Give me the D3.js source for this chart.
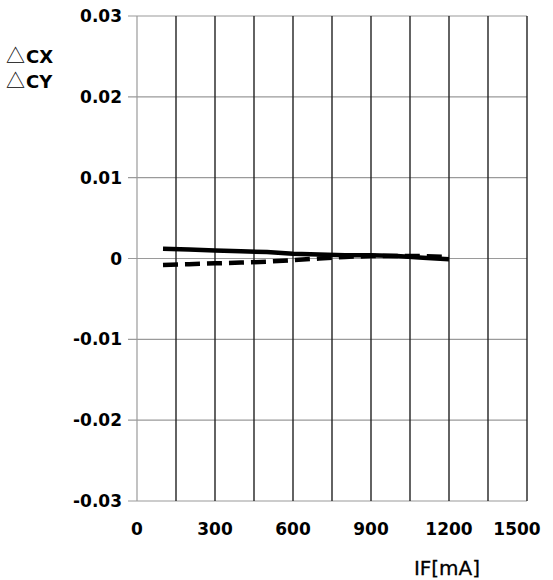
<!DOCTYPE html>
<html>
<head>
<meta charset="utf-8">
<script src="https://cdn.jsdelivr.net/npm/d3@7"></script>
<style>
  body { margin: 0; background: #fff; }
  svg text { font-family: "DejaVu Sans", sans-serif; }
</style>
</head>
<body>
<svg id="chart"></svg>
<script>
// IF[mA] sample points
const currents = [100, 200, 300, 400, 500, 600, 700, 800, 900, 1000, 1100, 1200];
// chromaticity shift
const deltaCx = [0.0012, 0.0011, 0.0010, 0.0009, 0.0008, 0.0006, 0.0005, 0.0004, 0.0004, 0.0003, 0.0001, -0.0001];
const deltaCy = [-0.0008, -0.0007, -0.0006, -0.0005, -0.0004, -0.0002, 0.0000, 0.0002, 0.0003, 0.0003, 0.0003, 0.0002];

const xTicks = [0, 300, 600, 900, 1200, 1500];
const xGrid = d3.range(0, 1501, 150);
const yTicks = [-0.03, -0.02, -0.01, 0, 0.01, 0.02, 0.03];

const width = 553, height = 580;
const margin = { top: 16, right: 26, bottom: 79, left: 137 };

const svg = d3.select("#chart")
    .attr("width", width)
    .attr("height", height);

const x = d3.scaleLinear().domain([0, 1500]).range([margin.left, width - margin.right]);
const y = d3.scaleLinear().domain([-0.03, 0.03]).range([height - margin.bottom, margin.top]);

// horizontal grid, with a short stub to the left of the axis
svg.append("g")
    .selectAll("line")
    .data(yTicks)
    .enter().append("line")
    .attr("x1", margin.left - 9)
    .attr("x2", x(1500))
    .attr("y1", d => y(d))
    .attr("y2", d => y(d))
    .attr("stroke", "#9a9a9a")
    .attr("stroke-width", 1.2);

// vertical grid
svg.append("g")
    .selectAll("line")
    .data(xGrid)
    .enter().append("line")
    .attr("x1", d => x(d))
    .attr("x2", d => x(d))
    .attr("y1", y(0.03))
    .attr("y2", y(-0.03))
    .attr("stroke", d => d === 0 ? "#9a9a9a" : "#222")
    .attr("stroke-width", d => d === 0 ? 1.2 : 1.4);

// y tick labels (plain hyphen for negatives, as in the original)
svg.append("g")
    .selectAll("text")
    .data(yTicks)
    .enter().append("text")
    .attr("x", 122)
    .attr("y", d => y(d))
    .attr("dy", "0.36em")
    .attr("text-anchor", "end")
    .style("font-size", "17px")
    .style("font-weight", "bold")
    .text(d => d === 0 ? "0" : d3.format(".2f")(d).replace("\u2212", "-"));

// x tick labels
svg.append("g")
    .selectAll("text")
    .data(xTicks)
    .enter().append("text")
    .attr("x", d => d === 1500 ? x(d) - 10 : x(d))
    .attr("y", 535)
    .attr("text-anchor", "middle")
    .style("font-size", "17px")
    .style("font-weight", "bold")
    .text(d => d);

// axis titles
svg.append("text")
    .attr("x", 447)
    .attr("y", 575)
    .attr("text-anchor", "middle")
    .style("font-size", "20px")
    .style("stroke", "#000")
    .style("stroke-width", 0.3)
    .text("IF[mA]");

["CX", "CY"].forEach((t, i) => {
    const label = svg.append("text")
        .attr("x", 6)
        .attr("y", 63 + i * 25)
        .style("font-size", "18px");
    label.append("tspan")
        .style("font-family", "'Noto Sans CJK JP'")
        .style("font-size", "19px")
        .text("\u25B3");
    label.append("tspan").attr("dx", 1).style("font-weight", "bold").text(t);
});

const line = d3.line()
    .x(d => x(d[0]))
    .y(d => y(d[1]));

svg.append("path")
    .datum(d3.zip(currents, deltaCx))
    .attr("d", line)
    .attr("fill", "none")
    .attr("stroke", "#000")
    .attr("stroke-width", 4.5);

svg.append("path")
    .datum(d3.zip(currents, deltaCy))
    .attr("d", line)
    .attr("fill", "none")
    .attr("stroke", "#000")
    .attr("stroke-width", 4.5)
    .attr("stroke-dasharray", "15,7");
</script>
</body>
</html>
